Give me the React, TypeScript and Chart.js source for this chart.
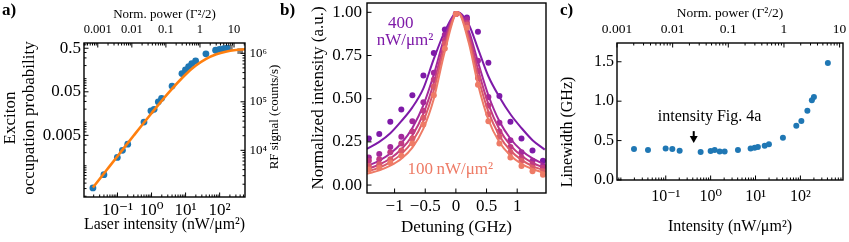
import React, { useEffect, useRef } from 'react';
import { Chart, registerables } from 'chart.js';

Chart.register(...registerables);

const SERIF = "'Liberation Serif', 'DejaVu Serif', 'Times New Roman', serif";

/* ---------------- (a) saturation ---------------- */
const aIntensity = [0.019, 0.04, 0.099, 0.14, 0.2, 0.6, 0.96, 1.19, 1.58, 1.97, 4.0, 7.8, 9.9, 12.3, 15.2, 19.7, 39.5, 76, 99, 131, 164];
const aOccupation = [3.1e-4, 6.25e-4, 1.56e-3, 2.26e-3, 3.14e-3, 0.0101, 0.0183, 0.0198, 0.0295, 0.0355, 0.0676, 0.131, 0.159, 0.19, 0.222, 0.255, 0.372, 0.45, 0.47, 0.49, 0.5];
const aExcludedIntensity = [200, 400];
const aExcludedOccupation = [0.51, 0.43];
const aFitIntensity = [0.019, 0.05, 0.1, 0.3, 1, 3, 10, 20, 40, 80, 150, 300, 560];
const aFitOccupation = [3.17e-4, 8.32e-4, 1.66e-3, 4.95e-3, 0.0161, 0.0455, 0.125, 0.2, 0.286, 0.364, 0.417, 0.455, 0.475];
const aXTicks = [0.1, 1, 10, 100];
const aXLabels = ['10\u207B\u00B9', '10\u2070', '10\u00B9', '10\u00B2'];
const aTopTicks = [0.001, 0.01, 0.1, 1, 10];
const aTopLabels = ['0.001', '0.01', '0.1', '1', '10'];
const aYTicks = [0.005, 0.05, 0.5];
const aYLabels = ['0.005', '0.05', '0.5'];
const aRightTicks = [1e4, 1e5, 1e6];
const aRightLabels = ['10\u2074', '10\u2075', '10\u2076'];

/* ---------------- (b) resonance scans ---------------- */
const bFitDetuning = [-1.45, -1.25, -1.07, -0.89, -0.71, -0.53, -0.36, -0.18, 0.03, 0.21, 0.36, 0.53, 0.71, 0.89, 1.07, 1.25, 1.45];
const bFit400 = [0.21, 0.25, 0.3, 0.37, 0.45, 0.56, 0.73, 0.89, 1.0, 0.93, 0.79, 0.63, 0.51, 0.41, 0.33, 0.26, 0.205];
const bFit300 = [0.11, 0.142, 0.183, 0.242, 0.331, 0.463, 0.64, 0.86, 1.0, 0.893, 0.713, 0.52, 0.369, 0.268, 0.2, 0.154, 0.118];
const bFit200 = [0.092, 0.119, 0.154, 0.207, 0.287, 0.413, 0.592, 0.834, 1.0, 0.872, 0.67, 0.469, 0.323, 0.23, 0.17, 0.129, 0.099];
const bFit150 = [0.078, 0.101, 0.133, 0.179, 0.252, 0.371, 0.549, 0.807, 1.0, 0.851, 0.629, 0.425, 0.286, 0.2, 0.146, 0.11, 0.084];
const bFit100 = [0.065, 0.085, 0.112, 0.152, 0.217, 0.327, 0.5, 0.775, 1.0, 0.824, 0.583, 0.378, 0.248, 0.171, 0.123, 0.093, 0.07];
const bDetuning = [-1.42, -1.25, -1.07, -0.89, -0.71, -0.53, -0.36, -0.18, 0.0, 0.18, 0.36, 0.53, 0.71, 0.89, 1.07, 1.25, 1.42];
const bPts400 = [0.27, 0.295, 0.366, 0.438, 0.52, 0.634, 0.765, 0.9, 0.99, 0.97, 0.887, 0.708, 0.515, 0.366, 0.27, 0.2, 0.14];
const bPts300 = [0.16, 0.18, 0.22, 0.28, 0.37, 0.48, 0.65, 0.87, 0.99, 0.96, 0.72, 0.51, 0.36, 0.26, 0.19, 0.14, 0.11];
const bPts200 = [0.14, 0.15, 0.19, 0.24, 0.31, 0.43, 0.61, 0.84, 0.99, 0.94, 0.66, 0.46, 0.31, 0.22, 0.16, 0.12, 0.1];
const bPts150 = [0.11, 0.12, 0.15, 0.2, 0.27, 0.39, 0.57, 0.82, 0.99, 0.93, 0.62, 0.41, 0.28, 0.19, 0.14, 0.1, 0.08];
const bPts100 = [0.09, 0.1, 0.13, 0.17, 0.24, 0.35, 0.52, 0.79, 0.99, 0.91, 0.58, 0.37, 0.24, 0.16, 0.11, 0.08, 0.06];
const bXTicks = [-1, -0.5, 0, 0.5, 1];
const bXLabels = ['\u22121', '\u22120.5', '0', '0.5', '1'];
const bYTicks = [0, 0.25, 0.5, 0.75, 1];
const bYLabels = ['0.00', '0.25', '0.50', '0.75', '1.00'];

/* ---------------- (c) linewidth ---------------- */
const cIntensity = [0.0196, 0.0402, 0.0995, 0.14, 0.204, 0.599, 1.0, 1.23, 1.59, 2.05, 4.06, 7.78, 9.55, 11.3, 16.0, 19.9, 40.8, 81, 105, 143, 180, 200, 409];
const cLinewidth = [0.392, 0.38, 0.401, 0.392, 0.371, 0.354, 0.367, 0.38, 0.363, 0.363, 0.38, 0.401, 0.409, 0.418, 0.434, 0.452, 0.535, 0.687, 0.747, 0.877, 1.013, 1.054, 1.485];
const cXTicks = [0.1, 1, 10, 100];
const cXLabels = ['10\u207B\u00B9', '10\u2070', '10\u00B9', '10\u00B2'];
const cTopTicks = [0.001, 0.01, 0.1, 1, 10];
const cTopLabels = ['0.001', '0.01', '0.1', '1', '10'];
const cYTicks = [0, 0.5, 1, 1.5];
const cYLabels = ['0.0', '0.5', '1.0', '1.5'];

/* ---------------- styles ---------------- */
const BLUE = '#1f77b4';
const ORANGE = '#ff7f0e';
const GREY = '#7f7f7f';
const C400 = '#7e1aa8';
const C300 = '#a3289c';
const C200 = '#c03a83';
const C150 = '#da5a6a';
const C100 = '#ee7b66';

function logMinor(min, max, skip) {
  const out = [];
  for (let e = Math.floor(Math.log10(min)); e <= Math.ceil(Math.log10(max)); e++) {
    for (let k = 1; k <= 9; k++) {
      const v = k * Math.pow(10, e);
      if (v < min || v > max) continue;
      if (skip.some((s) => Math.abs(s - v) <= Math.abs(s) * 1e-6)) continue;
      out.push(v);
    }
  }
  return out;
}

function makeAxis(o) {
  const horiz = o.position === 'top' || o.position === 'bottom';
  return {
    type: o.type,
    position: o.position,
    min: o.min,
    max: o.max,
    bounds: 'data',
    grid: { display: false, drawTicks: false },
    border: { display: false },
    afterBuildTicks: (s) => {
      s.ticks = o.ticks.map((v) => ({ value: v }));
    },
    afterFit: (s) => {
      if (horiz) s.height = o.size;
      else s.width = o.size;
      s.paddingLeft = 0;
      s.paddingRight = 0;
      s.paddingTop = 0;
      s.paddingBottom = 0;
    },
    ticks: {
      display: o.labels !== null,
      autoSkip: false,
      maxRotation: 0,
      minRotation: 0,
      padding: o.pad,
      color: '#000',
      font: { family: SERIF, size: o.font },
      callback: (v) => {
        const i = o.ticks.findIndex((t) => Math.abs(t - v) <= Math.abs(t) * 1e-6 + 1e-12);
        return i >= 0 && o.labels ? o.labels[i] : '';
      },
    },
    title: o.title
      ? { display: true, text: o.title, color: '#000', font: { family: SERIF, size: o.titleFont }, padding: o.titlePad }
      : { display: false },
  };
}

function makeDecor(spec) {
  return {
    id: 'decor',
    afterDraw(chart) {
      const { ctx, chartArea: ca } = chart;
      ctx.save();
      ctx.strokeStyle = '#000';
      ctx.fillStyle = '#000';
      for (const m of spec.marks) {
        const s = chart.scales[m.id];
        const draw = (vals, len) => {
          ctx.lineWidth = 1;
          for (const v of vals) {
            if (v < s.min || v > s.max) continue;
            const p = s.getPixelForValue(v);
            ctx.beginPath();
            if (m.side === 'bottom') { ctx.moveTo(p, ca.bottom); ctx.lineTo(p, ca.bottom - len); }
            else if (m.side === 'top') { ctx.moveTo(p, ca.top); ctx.lineTo(p, ca.top + len); }
            else if (m.side === 'left') { ctx.moveTo(ca.left, p); ctx.lineTo(ca.left + len, p); }
            else { ctx.moveTo(ca.right, p); ctx.lineTo(ca.right - len, p); }
            ctx.stroke();
          }
        };
        draw(m.major, 4.5);
        draw(m.minor || [], 2.5);
      }
      ctx.lineWidth = 1.4;
      ctx.strokeRect(ca.left, ca.top, ca.right - ca.left, ca.bottom - ca.top);
      for (const t of spec.texts || []) {
        const x = t.xs ? chart.scales[t.xs].getPixelForValue(t.x) : t.x;
        const y = t.ys ? chart.scales[t.ys].getPixelForValue(t.y) : t.y;
        ctx.save();
        ctx.translate(x, y);
        if (t.rot) ctx.rotate(t.rot);
        ctx.font = `${t.size}px ${SERIF}`;
        ctx.fillStyle = t.color || '#000';
        ctx.textAlign = 'center';
        ctx.textBaseline = 'middle';
        ctx.fillText(t.text, 0, 0);
        ctx.restore();
      }
      for (const a of spec.arrows || []) {
        const x = chart.scales[a.xs].getPixelForValue(a.x);
        const y0 = chart.scales[a.ys].getPixelForValue(a.y0);
        const y1 = chart.scales[a.ys].getPixelForValue(a.y1);
        ctx.lineWidth = 2;
        ctx.beginPath();
        ctx.moveTo(x, y0);
        ctx.lineTo(x, y1 - 5);
        ctx.stroke();
        ctx.beginPath();
        ctx.moveTo(x - 4, y1 - 7);
        ctx.lineTo(x + 4, y1 - 7);
        ctx.lineTo(x, y1);
        ctx.closePath();
        ctx.fill();
      }
      ctx.restore();
    },
  };
}

const pts = (xs, ys) => xs.map((x, i) => ({ x, y: ys[i] }));

const baseOptions = (padding) => ({
  responsive: false,
  animation: false,
  devicePixelRatio: 1,
  events: [],
  layout: { padding, autoPadding: false },
  plugins: { legend: { display: false }, tooltip: { enabled: false } },
});

function buildA() {
  const xMin = 0.0104, xMax = 555, yMin = 1.92e-4, yMax = 0.66, tMin = 3.94e-4, tMax = 21, rMin = 1090, rMax = 1.63e6;
  return {
    type: 'scatter',
    data: {
      datasets: [
        { data: pts(aFitIntensity, aFitOccupation), xAxisID: 'x', yAxisID: 'y', showLine: true, borderColor: ORANGE, borderWidth: 2.6, pointRadius: 0, cubicInterpolationMode: 'monotone', order: 0 },
        { data: pts(aIntensity, aOccupation), xAxisID: 'x', yAxisID: 'y', backgroundColor: BLUE, borderWidth: 0, pointRadius: 3.4, order: 1 },
        { data: pts(aExcludedIntensity, aExcludedOccupation), xAxisID: 'x', yAxisID: 'y', pointStyle: 'rect', backgroundColor: GREY, borderWidth: 0, pointRadius: 4, order: 2 },
      ],
    },
    options: {
      ...baseOptions({ top: 0, right: 0, bottom: 0, left: 0 }),
      scales: {
        x: makeAxis({ type: 'logarithmic', position: 'bottom', min: xMin, max: xMax, ticks: aXTicks, labels: aXLabels, size: 45, font: 17, pad: 3, title: 'Laser intensity (nW/\u03BCm\u00B2)', titleFont: 17, titlePad: { top: 0, bottom: 7 } }),
        x2: makeAxis({ type: 'logarithmic', position: 'top', min: tMin, max: tMax, ticks: aTopTicks, labels: aTopLabels, size: 43, font: 12.5, pad: 6, title: 'Norm. power (\u0393\u00B2/2)', titleFont: 13, titlePad: { top: 6.6, bottom: 0 } }),
        y: makeAxis({ type: 'logarithmic', position: 'left', min: yMin, max: yMax, ticks: aYTicks, labels: aYLabels, size: 84, font: 17, pad: 3 }),
        y2: makeAxis({ type: 'logarithmic', position: 'right', min: rMin, max: rMax, ticks: aRightTicks, labels: aRightLabels, size: 45, font: 13, pad: 4.5 }),
      },
    },
    plugins: [
      makeDecor({
        marks: [
          { id: 'x', side: 'bottom', major: aXTicks, minor: logMinor(xMin, xMax, aXTicks) },
          { id: 'x2', side: 'top', major: aTopTicks, minor: logMinor(tMin, tMax, aTopTicks) },
          { id: 'y', side: 'left', major: aYTicks, minor: logMinor(yMin, yMax, aYTicks) },
          { id: 'y2', side: 'right', major: aRightTicks, minor: logMinor(rMin, rMax, aRightTicks) },
        ],
        texts: [
          { text: 'Exciton', x: 10.5, y: 118, size: 17, rot: -Math.PI / 2 },
          { text: 'occupation probability', x: 29.5, y: 118, size: 17, rot: -Math.PI / 2 },
          { text: 'RF signal (counts/s)', x: 275, y: 117, size: 13, rot: -Math.PI / 2 },
        ],
      }),
    ],
  };
}

function buildB() {
  const series = [
    { fit: bFit100, p: bPts100, c: C100 },
    { fit: bFit150, p: bPts150, c: C150 },
    { fit: bFit200, p: bPts200, c: C200 },
    { fit: bFit300, p: bPts300, c: C300 },
    { fit: bFit400, p: bPts400, c: C400 },
  ];
  const datasets = [];
  series.forEach((s, i) => {
    datasets.push({ data: pts(bDetuning, s.p), xAxisID: 'x', yAxisID: 'y', backgroundColor: s.c, borderWidth: 0, pointRadius: 3, order: 2 * i, clip: 0 });
    datasets.push({ data: pts(bFitDetuning, s.fit), xAxisID: 'x', yAxisID: 'y', showLine: true, borderColor: s.c, borderWidth: 2, pointRadius: 0, cubicInterpolationMode: 'monotone', order: 2 * i + 1, clip: 0 });
  });
  return {
    type: 'scatter',
    data: { datasets },
    options: {
      ...baseOptions({ top: 3, right: 11, bottom: 0, left: 0 }),
      scales: {
        x: makeAxis({ type: 'linear', position: 'bottom', min: -1.45, max: 1.47, ticks: bXTicks, labels: bXLabels, size: 49, font: 17, pad: 3.4, title: 'Detuning (GHz)', titleFont: 17, titlePad: { top: 0, bottom: 4.6 } }),
        y: makeAxis({ type: 'linear', position: 'left', min: -0.046, max: 1.054, ticks: bYTicks, labels: bYLabels, size: 77, font: 17, pad: 5, title: 'Normalized intensity (a.u.)', titleFont: 17, titlePad: { top: 18, bottom: 0 } }),
      },
    },
    plugins: [
      makeDecor({
        marks: [
          { id: 'x', side: 'bottom', major: bXTicks },
          { id: 'y', side: 'left', major: bYTicks },
        ],
        texts: [
          { text: '400', xs: 'x', ys: 'y', x: -0.9, y: 0.935, size: 17, color: C400 },
          { text: 'nW/\u03BCm\u00B2', xs: 'x', ys: 'y', x: -0.83, y: 0.835, size: 17, color: C400 },
          { text: '100\u2009nW/\u03BCm\u00B2', xs: 'x', ys: 'y', x: -0.09, y: 0.087, size: 17, color: C100 },
        ],
      }),
    ],
  };
}

function buildC() {
  const xMin = 0.0082, xMax = 889, tMin = 0.001, tMax = 11.5;
  return {
    type: 'scatter',
    data: {
      datasets: [
        { data: pts(cIntensity, cLinewidth), xAxisID: 'x', yAxisID: 'y', backgroundColor: BLUE, borderWidth: 0, pointRadius: 3 },
      ],
    },
    options: {
      ...baseOptions({ top: 0, right: 6, bottom: 0, left: 0 }),
      scales: {
        x: makeAxis({ type: 'logarithmic', position: 'bottom', min: xMin, max: xMax, ticks: cXTicks, labels: cXLabels, size: 62, font: 16, pad: 7.5, title: 'Intensity (nW/\u03BCm\u00B2)', titleFont: 16, titlePad: { top: 0, bottom: 5.6 } }),
        x2: makeAxis({ type: 'logarithmic', position: 'top', min: tMin, max: tMax, ticks: cTopTicks, labels: cTopLabels, size: 43, font: 13.5, pad: 5.6, title: 'Norm. power (\u0393\u00B2/2)', titleFont: 13.5, titlePad: { top: 5.6, bottom: 0 } }),
        y: makeAxis({ type: 'linear', position: 'left', min: 0, max: 1.738, ticks: cYTicks, labels: cYLabels, size: 60, font: 16, pad: 3 }),
      },
    },
    plugins: [
      makeDecor({
        marks: [
          { id: 'x', side: 'bottom', major: cXTicks, minor: logMinor(xMin, xMax, cXTicks) },
          { id: 'x2', side: 'top', major: cTopTicks, minor: logMinor(tMin, tMax, cTopTicks) },
          { id: 'y', side: 'left', major: cYTicks },
        ],
        texts: [
          { text: 'Linewidth (GHz)', x: 10.5, y: 132, size: 16, rot: -Math.PI / 2 },
          { text: 'intensity Fig. 4a', xs: 'x', ys: 'y', x: 0.95, y: 0.8, size: 16 },
        ],
        arrows: [{ xs: 'x', ys: 'y', x: 0.42, y0: 0.62, y1: 0.47 }],
      }),
    ],
  };
}

function Panel({ left, width, build }) {
  const ref = useRef(null);
  useEffect(() => {
    const chart = new Chart(ref.current, build());
    return () => chart.destroy();
  }, []);
  return (
    <canvas
      ref={ref}
      width={width}
      height={242}
      style={{ position: 'absolute', left, top: 0, width, height: 242 }}
    />
  );
}

const letter = (left) => ({
  position: 'absolute',
  left,
  top: 0,
  font: `bold 17px ${SERIF}`,
  lineHeight: '20px',
  color: '#000',
});

export default function App() {
  return (
    <div style={{ position: 'fixed', left: 0, top: 0, width: 849, height: 242, background: '#fff', overflow: 'hidden' }}>
      <Panel left={0} width={290} build={buildA} />
      <Panel left={290} width={267} build={buildB} />
      <Panel left={557} width={292} build={buildC} />
      <div style={letter(2)}>a)</div>
      <div style={letter(280)}>b)</div>
      <div style={letter(560)}>c)</div>
    </div>
  );
}
